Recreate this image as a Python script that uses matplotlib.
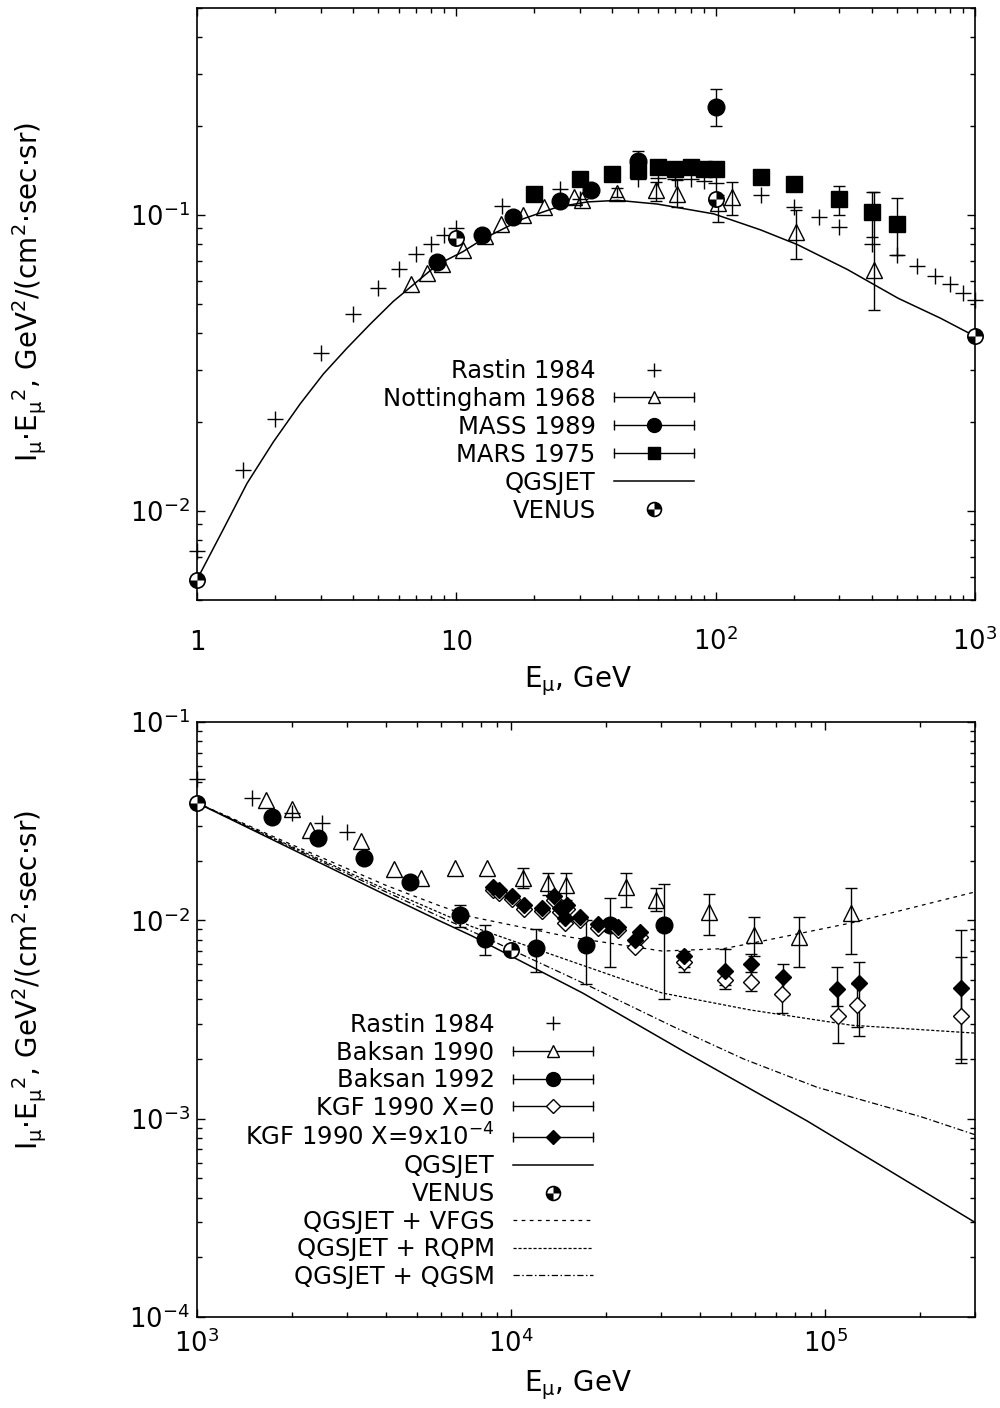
import numpy as np
import matplotlib
matplotlib.use('Agg')
import matplotlib.pyplot as plt
from matplotlib.lines import Line2D
from matplotlib.path import Path
from matplotlib.legend_handler import HandlerBase
from matplotlib.ticker import FixedLocator, FixedFormatter, LogLocator, NullFormatter

plt.rcParams['font.family'] = ['DejaVu Sans']
plt.rcParams['mathtext.fontset'] = 'dejavusans'
plt.rcParams['mathtext.default'] = 'regular'
FS = 17.5
LFS = 20

# ---------------- top panel data (E in GeV, I*E^2) ----------------
rastin_E = [1, 1.5, 2, 3, 4, 5, 6, 7, 8, 9, 10, 15, 25, 30, 50, 60, 70, 80, 90, 100,
            150, 200, 250, 300, 400, 500, 600, 700, 800, 900, 1000]
rastin_v = [0.0073, 0.0137, 0.0205, 0.0342, 0.0461, 0.0565, 0.0659, 0.074, 0.080, 0.0857,
            0.0904, 0.107, 0.122, 0.113, 0.132, 0.133, 0.132, 0.132, 0.130, 0.128,
            0.117, 0.106, 0.0985, 0.0912, 0.080, 0.0734, 0.0674, 0.0624, 0.0582, 0.0543, 0.0514]

nott_E = [6.7, 7.7, 8.8, 10.6, 12.9, 14.9, 18, 21.7, 28.5, 30.6, 41.5, 58.7, 70.7, 102, 116, 204, 407]
nott_v = [0.0582, 0.0634, 0.068, 0.0763, 0.085, 0.0933, 0.100, 0.106, 0.115, 0.112, 0.119,
          0.121, 0.1176, 0.1097, 0.115, 0.0877, 0.065]
nott_lo = [np.nan] * 10 + [0.115, 0.111, 0.106, 0.0947, 0.100, 0.0712, 0.0476]
nott_hi = [np.nan] * 10 + [0.123, 0.129, 0.131, 0.1167, 0.129, 0.1035, 0.1195]

mass_E = [8.4, 12.6, 16.6, 25.2, 33, 50, 100]
mass_v = [0.0695, 0.0857, 0.0985, 0.1114, 0.1213, 0.152, 0.232]
mass_lo = [np.nan, np.nan, np.nan, np.nan, np.nan, 0.147, 0.199]
mass_hi = [np.nan, np.nan, np.nan, np.nan, np.nan, 0.165, 0.267]

mars_E = [20, 30, 40, 50, 60, 70, 80, 90, 100, 150, 200, 300, 400, 500]
mars_v = [0.1176, 0.132, 0.1373, 0.1415, 0.145, 0.1427, 0.145, 0.143, 0.1427, 0.134, 0.127,
          0.113, 0.1023, 0.0933]
mars_lo = [np.nan] * 9 + [0.130, 0.123, 0.100, 0.0844, 0.073]
mars_hi = [np.nan] * 9 + [0.138, 0.131, 0.125, 0.1195, 0.114]

qgs_top_E = [1, 1.26, 1.56, 1.97, 2.5, 3.07, 3.79, 4.66, 5.71, 7.07, 8.45, 10.6, 12.7, 18.1,
             24.6, 32, 41.9, 59.6, 98.3, 149, 207, 322, 505, 735, 1000]
qgs_top_v = [0.00586, 0.00863, 0.0124, 0.0171, 0.023, 0.029, 0.0355, 0.0428, 0.051, 0.0596,
             0.0679, 0.0751, 0.083, 0.097, 0.1064, 0.1106, 0.112, 0.1088, 0.1008, 0.089,
             0.0793, 0.0654, 0.0523, 0.0448, 0.0389]

venus_top_E = [1, 10, 100, 1000]
venus_top_v = [0.00586, 0.0837, 0.113, 0.0389]

# ---------------- bottom panel data ----------------
rastin2_E = [1000, 1500, 2000, 2500, 3000]
rastin2_v = [0.0514, 0.0414, 0.0347, 0.031, 0.0279]

bak90_E = [1660, 2000, 2290, 3330, 4250, 5150, 6620, 8380, 10900, 13150, 15000, 23200,
           29000, 42800, 59200, 82600, 121000]
bak90_v = [0.0405, 0.0364, 0.0285, 0.0251, 0.0181, 0.0163, 0.0184, 0.0184, 0.0163, 0.0154,
           0.0151, 0.0147, 0.01265, 0.011, 0.00844, 0.00824, 0.0109]
bak90_lo = [np.nan] * 8 + [0.0145, 0.0134, 0.0127, 0.0117, 0.0112, 0.0084, 0.0066, 0.0058, 0.0068]
bak90_hi = [np.nan] * 8 + [0.0184, 0.0173, 0.0173, 0.0173, 0.0146, 0.0136, 0.0104, 0.0104, 0.0146]

bak92_E = [1730, 2430, 3400, 4770, 6870, 8260, 12000, 17300, 20600, 30700]
bak92_v = [0.0332, 0.026, 0.0206, 0.0156, 0.0106, 0.00805, 0.00725, 0.0075, 0.0095, 0.0095]
bak92_lo = [np.nan] * 4 + [0.0093, 0.0067, 0.0055, 0.0048, 0.0058, 0.0040]
bak92_hi = [np.nan] * 4 + [0.0119, 0.0095, 0.0090, 0.0100, 0.0129, 0.0153]

kgf0_E = [8750, 9160, 10070, 11000, 12570, 13740, 14360, 14800, 15110, 16520, 18870, 21880,
          24760, 25700, 35560, 47900, 57900, 72800, 110000, 126700, 271000]
kgf0_v = [0.0142, 0.0137, 0.0128, 0.0114, 0.0111, 0.0127, 0.0110, 0.0097, 0.0114, 0.0100,
          0.0091, 0.0089, 0.0073, 0.0082, 0.00616, 0.0050, 0.00489, 0.00425, 0.00329, 0.00373,
          0.00329]
kgf0_lo = [np.nan] * 14 + [0.0055, 0.0045, 0.0044, 0.0034, 0.0024, 0.0029, 0.0020]
kgf0_hi = [np.nan] * 14 + [0.0068, 0.0056, 0.0055, 0.0052, 0.0045, 0.0048, 0.0065]

kgf9_E = [8750, 9160, 10070, 11000, 12570, 13740, 14360, 14800, 15110, 16520, 18870, 21880,
          24760, 25700, 35560, 47900, 58200, 73200, 109000, 128500, 271000]
kgf9_v = [0.0147, 0.0142, 0.0133, 0.0119, 0.01154, 0.0133, 0.01154, 0.0103, 0.0119, 0.0104,
          0.0096, 0.0093, 0.00793, 0.00871, 0.0066, 0.00555, 0.00603, 0.00518, 0.00451,
          0.00485, 0.00456]
kgf9_lo = [np.nan] * 14 + [0.0058, 0.0047, 0.0050, 0.0043, 0.0037, 0.0026, 0.0019]
kgf9_hi = [np.nan] * 14 + [0.0070, 0.0072, 0.0068, 0.0060, 0.0058, 0.0062, 0.0089]

qgs_E = [1000, 2000, 4000, 5875, 7500, 16900, 36100, 87500, 300000]
qgs_v = [0.0391, 0.0229, 0.0134, 0.0100, 0.00835, 0.0043, 0.00215, 0.000975, 0.0003]

venus2_E = [1000, 10000]
venus2_v = [0.0391, 0.0071]

vfgs_E = [1000, 2000, 4000, 5875, 7500, 15600, 30300, 47500, 59200, 121000, 300000]
vfgs_v = [0.0391, 0.0241, 0.0150, 0.0119, 0.0104, 0.0082, 0.0070, 0.0072, 0.0077, 0.0097, 0.0139]

rqpm_E = [1000, 2000, 4000, 7500, 15600, 30300, 57900, 121000, 300000]
rqpm_v = [0.0391, 0.0236, 0.0143, 0.0093, 0.0062, 0.0043, 0.00353, 0.00296, 0.0027]

qgsm_E = [1000, 2000, 4000, 7500, 16900, 33000, 55000, 94200, 203000, 300000]
qgsm_v = [0.0391, 0.0233, 0.0139, 0.0088, 0.00484, 0.0029, 0.0020, 0.00144, 0.00102, 0.00083]

ylab = 'I$_{μ}$·E$_{μ}$$^{2}$, GeV$^{2}$/(cm$^{2}$·sec·sr)'
xlab = 'E$_{μ}$, GeV'

# VENUS symbol: white circle + two black quadrants
quad = Path.make_compound_path(Path.wedge(0, 90), Path.wedge(180, 270))


class BarHandler(HandlerBase):
    # gnuplot-like key sample: horizontal bar with end caps and the point symbol
    def create_artists(self, legend, orig_handle, xdescent, ydescent, width, height, fontsize, trans):
        y = height / 2 - ydescent
        x0, x1 = -xdescent, width - xdescent
        bar = Line2D([x0, x1], [y, y], color='k', lw=1.0, marker='|', ms=7, mew=1.0)
        dot = Line2D([(x0 + x1) / 2], [y], ls='none', marker=orig_handle.get_marker(),
                     ms=orig_handle.get_markersize(), mfc=orig_handle.get_markerfacecolor(),
                     mec='k', mew=orig_handle.get_markeredgewidth())
        bar.set_transform(trans)
        dot.set_transform(trans)
        return [bar, dot]


def with_err(ax, E, v, lo, hi, **kw):
    E = np.array(E); v = np.array(v); lo = np.array(lo); hi = np.array(hi)
    m = ~np.isnan(lo)
    if m.any():
        ax.errorbar(E[m], v[m], yerr=[v[m] - lo[m], hi[m] - v[m]], fmt='none', ecolor='k',
                    elinewidth=1.0, capsize=4.5, capthick=1.0, clip_on=False, zorder=2)
    ax.plot(E, v, ls='none', clip_on=False, zorder=3, **kw)


def venus(ax, E, v):
    ax.plot(E, v, ls='none', marker='o', ms=11, mfc='white', mec='k', mew=1.2, clip_on=False, zorder=5)
    ax.plot(E, v, ls='none', marker=quad, ms=11, mfc='k', mec='none', clip_on=False, zorder=6)


def style(ax, xt, xl, yt, yl, xlim, ylim, xpad):
    ax.set_xscale('log')
    ax.set_yscale('log')
    ax.set_xlim(*xlim)
    ax.set_ylim(*ylim)
    ax.xaxis.set_major_locator(FixedLocator(xt))
    ax.xaxis.set_major_formatter(FixedFormatter(xl))
    ax.yaxis.set_major_locator(FixedLocator(yt))
    ax.yaxis.set_major_formatter(FixedFormatter(yl))
    for a in (ax.xaxis, ax.yaxis):
        a.set_minor_locator(LogLocator(base=10, subs=np.arange(2, 10), numticks=20))
        a.set_minor_formatter(NullFormatter())
    ax.tick_params(which='both', direction='in', top=True, right=True, width=1.0)
    ax.tick_params(which='major', length=6)
    ax.tick_params(which='minor', length=3.5)
    ax.tick_params(axis='x', which='major', pad=xpad, labelsize=18.5)
    ax.tick_params(axis='y', which='major', pad=5, labelsize=18.5)
    for lab in ax.get_xticklabels():
        lab.set_va('baseline')
    for s in ax.spines.values():
        s.set_linewidth(1.2)


fig = plt.figure(figsize=(10, 14.08), dpi=100)
ax1 = fig.add_axes([0.197, 1 - 600 / 1408, 0.778, 592 / 1408])
ax2 = fig.add_axes([0.197, 1 - 1317 / 1408, 0.778, 595 / 1408])

# ---------------- top ----------------
ax1.plot(rastin_E, rastin_v, ls='none', marker='+', ms=11, mew=1.0, color='k', clip_on=False, zorder=3)
with_err(ax1, nott_E, nott_v, nott_lo, nott_hi, marker='^', ms=11, mfc='none', mec='k', mew=1.0)
with_err(ax1, mass_E, mass_v, mass_lo, mass_hi, marker='o', ms=12, mfc='k', mec='k')
with_err(ax1, mars_E, mars_v, mars_lo, mars_hi, marker='s', ms=11, mfc='k', mec='k')
ax1.plot(qgs_top_E, qgs_top_v, color='k', lw=1.1, zorder=4)
venus(ax1, venus_top_E, venus_top_v)

style(ax1, [1, 10, 100, 1000], ['1', '10', '$10^{2}$', '$10^{3}$'],
      [0.01, 0.1], ['$10^{-2}$', '$10^{-1}$'], (1, 1000), (0.005, 0.5), 36)
ax1.set_ylabel(ylab, fontsize=LFS)
ax1.yaxis.set_label_coords(-0.19, 0.52)
ax1.set_xlabel(xlab, fontsize=LFS)
ax1.xaxis.set_label_coords(0.49, -0.108)

h_r = Line2D([], [], ls='none', marker='+', ms=10, mew=1.0, color='k')
h_n = Line2D([], [], ls='none', marker='^', ms=9, mfc='white', mec='k', mew=1.0)
h_m = Line2D([], [], ls='none', marker='o', ms=10, mfc='k', mec='k', mew=1.0)
h_s = Line2D([], [], ls='none', marker='s', ms=9, mfc='k', mec='k', mew=1.0)
h_q = Line2D([], [], color='k', lw=1.1)
h_v1 = Line2D([], [], ls='none', marker='o', ms=10, mfc='white', mec='k', mew=1.2)
h_v2 = Line2D([], [], ls='none', marker=quad, ms=10, mfc='k', mec='none')
bh = BarHandler()
ax1.legend([h_r, h_n, h_m, h_s, h_q, (h_v1, h_v2)],
           ['Rastin 1984', 'Nottingham 1968', 'MASS 1989', 'MARS 1975', 'QGSJET', 'VENUS'],
           handler_map={h_n: bh, h_m: bh, h_s: bh},
           loc='upper right', bbox_to_anchor=(0.639, 0.407), frameon=False, fontsize=FS,
           markerfirst=False, handlelength=3.3, handletextpad=0.75, labelspacing=0.16,
           borderpad=0, borderaxespad=0)

# ---------------- bottom ----------------
ax2.plot(vfgs_E, vfgs_v, color='k', lw=0.9, ls=(0, (3, 3.5)), zorder=1)
ax2.plot(rqpm_E, rqpm_v, color='k', lw=0.9, ls=(0, (2.5, 1.5)), zorder=1)
ax2.plot(qgsm_E, qgsm_v, color='k', lw=0.9, ls=(0, (5, 2, 1.2, 2)), zorder=1)
ax2.plot(rastin2_E, rastin2_v, ls='none', marker='+', ms=11, mew=1.0, color='k', clip_on=False, zorder=3)
with_err(ax2, bak90_E, bak90_v, bak90_lo, bak90_hi, marker='^', ms=11, mfc='none', mec='k', mew=1.0)
with_err(ax2, bak92_E, bak92_v, bak92_lo, bak92_hi, marker='o', ms=12, mfc='k', mec='k')
with_err(ax2, kgf0_E, kgf0_v, kgf0_lo, kgf0_hi, marker='D', ms=8.5, mfc='white', mec='k', mew=1.0)
with_err(ax2, kgf9_E, kgf9_v, kgf9_lo, kgf9_hi, marker='D', ms=8.5, mfc='k', mec='k', mew=1.0)
ax2.plot(qgs_E, qgs_v, color='k', lw=1.1, zorder=4)
venus(ax2, venus2_E, venus2_v)

style(ax2, [1e3, 1e4, 1e5], ['$10^{3}$', '$10^{4}$', '$10^{5}$'],
      [1e-4, 1e-3, 1e-2, 1e-1], ['$10^{-4}$', '$10^{-3}$', '$10^{-2}$', '$10^{-1}$'],
      (1e3, 3e5), (1e-4, 1e-1), 25)
ax2.set_ylabel(ylab, fontsize=LFS)
ax2.yaxis.set_label_coords(-0.19, 0.566)
ax2.set_xlabel(xlab, fontsize=LFS)
ax2.xaxis.set_label_coords(0.49, -0.086)

h_t = Line2D([], [], ls='none', marker='^', ms=9, mfc='white', mec='k', mew=1.0)
h_c = Line2D([], [], ls='none', marker='o', ms=10, mfc='k', mec='k', mew=1.0)
h_d0 = Line2D([], [], ls='none', marker='D', ms=7, mfc='white', mec='k', mew=1.0)
h_d9 = Line2D([], [], ls='none', marker='D', ms=7, mfc='k', mec='k', mew=1.0)
h_vf = Line2D([], [], color='k', lw=0.9, ls=(0, (3, 3.5)))
h_rq = Line2D([], [], color='k', lw=0.9, ls=(0, (2.5, 1.5)))
h_qm = Line2D([], [], color='k', lw=0.9, ls=(0, (5, 2, 1.2, 2)))
ax2.legend([h_r, h_t, h_c, h_d0, h_d9, h_q, (h_v1, h_v2), h_vf, h_rq, h_qm],
           ['Rastin 1984', 'Baksan 1990', 'Baksan 1992', 'KGF 1990 X=0',
            'KGF 1990 X=9x10$^{-4}$', 'QGSJET', 'VENUS', 'QGSJET + VFGS', 'QGSJET + RQPM',
            'QGSJET + QGSM'],
           handler_map={h_t: bh, h_c: bh, h_d0: bh, h_d9: bh},
           loc='upper right', bbox_to_anchor=(0.509, 0.511), frameon=False, fontsize=FS,
           markerfirst=False, handlelength=3.3, handletextpad=0.75, labelspacing=0.15,
           borderpad=0, borderaxespad=0)

fig.savefig('out.png', dpi=100)
